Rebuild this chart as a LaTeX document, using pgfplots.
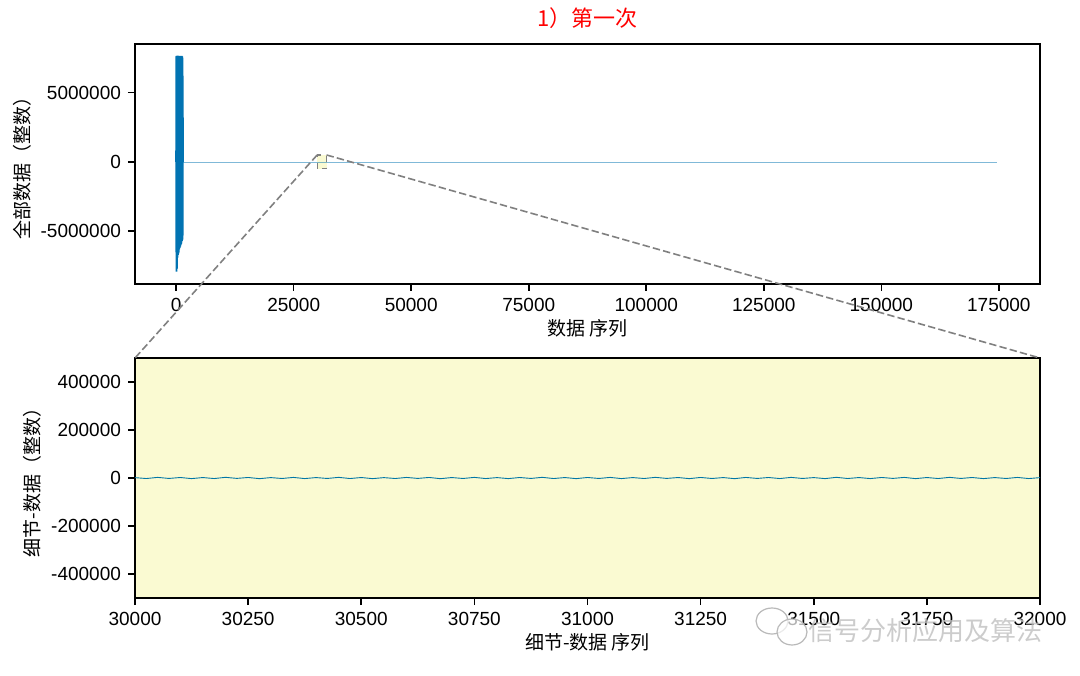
\documentclass[border=0pt]{standalone}
\usepackage{pgfplots}
\pgfplotsset{compat=1.18}
\usepackage{fontspec}
\setmainfont{Liberation Sans}
\newfontfamily\cjk{Noto Sans CJK SC}
\definecolor{lineblue}{HTML}{0173B2}
\definecolor{insetbg}{HTML}{FAFAD2}
\pgfplotsset{
  common/.style={
    width=452.5pt, height=120pt, scale only axis,
    axis line style={line width=0.8pt, black},
    tick style={black, line width=0.8pt},
    tick align=outside, major tick length=3.5pt,
    tick pos=left,
    ticklabel style={font=\fontsize{9.5}{11}\selectfont},
    label style={font=\fontsize{9.5}{11}\selectfont\cjk},
    scaled ticks=false,
    /pgf/number format/.cd, fixed, 1000 sep={}, assume math mode=true,
  }
}
\begin{document}
\begin{tikzpicture}
\useasboundingbox (0pt,0pt) rectangle (540pt,337.5pt);
% top axis
\begin{axis}[common, name=top, at={(67.5pt,195.5pt)}, anchor=south west,
  xmin=-8750, xmax=183750, ymin=-8800000, ymax=8500000,
  xtick={0,25000,50000,75000,100000,125000,150000,175000},
  ytick={-5000000,0,5000000},
  xlabel={数据 序列}, ylabel={全部数据（整数）},
  title={\cjk 1）第一次}, title style={font=\fontsize{11}{13}\selectfont\cjk, text=red, yshift=-2pt},
  xlabel style={yshift=3pt}, ylabel style={yshift=-2pt}]
\fill[insetbg] (axis cs:30000,-500000) rectangle (axis cs:32000,500000);
\draw[gray, dashed, line width=0.6pt] (axis cs:30000,-500000) rectangle (axis cs:32000,500000);
\coordinate (rtl) at (axis cs:30000,500000);
\coordinate (rtr) at (axis cs:32000,500000);
\addplot[lineblue, line width=0.35pt, opacity=0.5] coordinates {
(1450,0) (20000,0) (30000,0) (45000,0) (90000,0) (125000,0) (174500,0)};
\addplot[lineblue, line width=0.9pt] coordinates {
(0,0) (24,7600000) (48,-6500000) (72,7650000) (96,-7900000) (120,7600000)
(144,-6800000) (168,7620000) (192,-7700000) (216,7640000) (240,-6600000)
(264,7600000) (288,-6900000) (312,7660000) (336,-6400000) (360,7620000)
(384,-6700000) (408,7600000) (432,-6300000) (456,7640000) (480,-6600000)
(504,7600000) (528,-6200000) (552,7620000) (576,-6500000) (600,7600000)
(624,-6100000) (648,7640000) (672,-6300000) (696,7620000) (720,-6000000)
(744,7600000) (768,-6200000) (792,7620000) (816,-5900000) (840,7600000)
(864,-6100000) (888,7640000) (912,-5800000) (936,7600000) (960,-6000000)
(984,7620000) (1008,-5700000) (1032,7600000) (1056,-5900000) (1080,7620000)
(1104,-5600000) (1128,7600000) (1152,-5800000) (1176,7640000) (1200,-5500000)
(1224,7600000) (1248,-5700000) (1272,7600000) (1296,-5400000) (1320,7560000)
(1344,-5600000) (1368,7500000) (1392,-5300000) (1416,6200000) (1440,0)};
\end{axis}
% bottom axis
\begin{axis}[common, name=bot, at={(67.5pt,38.5pt)}, anchor=south west,
  xmin=30000, xmax=32000, ymin=-500000, ymax=500000,
  xtick={30000,30250,30500,30750,31000,31250,31500,31750,32000},
  ytick={-400000,-200000,0,200000,400000},
  axis background/.style={fill=insetbg},
  xlabel={细节-数据 序列}, ylabel={细节-数据（整数）},
  xlabel style={yshift=3pt}, ylabel style={yshift=-2pt}]
\coordinate (btl) at (rel axis cs:0,1);
\coordinate (btr) at (rel axis cs:1,1);
\addplot[lineblue!75!teal, line width=0.45pt] coordinates {
(30000,1500) (30025,-2200) (30050,2600) (30075,-1800) (30100,2100) (30125,-2500)
(30150,1900) (30175,-2300) (30200,2800) (30225,-1600) (30250,2200) (30275,-2700)
(30300,1700) (30325,-2000) (30350,2500) (30375,-2400) (30400,1800) (30425,-1900)
(30450,2700) (30475,-2200) (30500,2000) (30525,-2600) (30550,1600) (30575,-2100)
(30600,2400) (30625,-1700) (30650,2300) (30675,-2800) (30700,1900) (30725,-2000)
(30750,2600) (30775,-2300) (30800,1700) (30825,-2500) (30850,2100) (30875,-1800)
(30900,2800) (30925,-2200) (30950,1900) (30975,-2600) (31000,2200) (31025,-1900)
(31050,2500) (31075,-2400) (31100,1800) (31125,-2100) (31150,2700) (31175,-1700)
(31200,2000) (31225,-2600) (31250,2300) (31275,-2000) (31300,1800) (31325,-2700)
(31350,2400) (31375,-1800) (31400,2100) (31425,-2300) (31450,2600) (31475,-1900)
(31500,1700) (31525,-2500) (31550,2800) (31575,-2100) (31600,1900) (31625,-2400)
(31650,2200) (31675,-1700) (31700,2500) (31725,-2600) (31750,2000) (31775,-2200)
(31800,2700) (31825,-1800) (31850,2100) (31875,-2500) (31900,1800) (31925,-2000)
(31950,2400) (31975,-2300) (32000,1600)};
\end{axis}
% connector lines
\draw[gray, dash pattern=on 3.7pt off 1.6pt, line width=0.8pt] (rtl) -- (btl);
\draw[gray, dash pattern=on 3.7pt off 1.6pt, line width=0.8pt] (rtr) -- (btr);
% watermark
\draw[gray!55, line width=0.6pt, fill=white, fill opacity=0.6] (386pt,27pt) ellipse (8pt and 6.5pt);
\draw[gray!55, line width=0.6pt, fill=white, fill opacity=0.7] (396pt,21.5pt) ellipse (7.5pt and 6.5pt);
\node[text=gray!50, opacity=0.8, font=\fontsize{13}{15}\selectfont\cjk, anchor=west, inner sep=0pt] at (404pt,22pt) {信号分析应用及算法};
\end{tikzpicture}
\end{document}
